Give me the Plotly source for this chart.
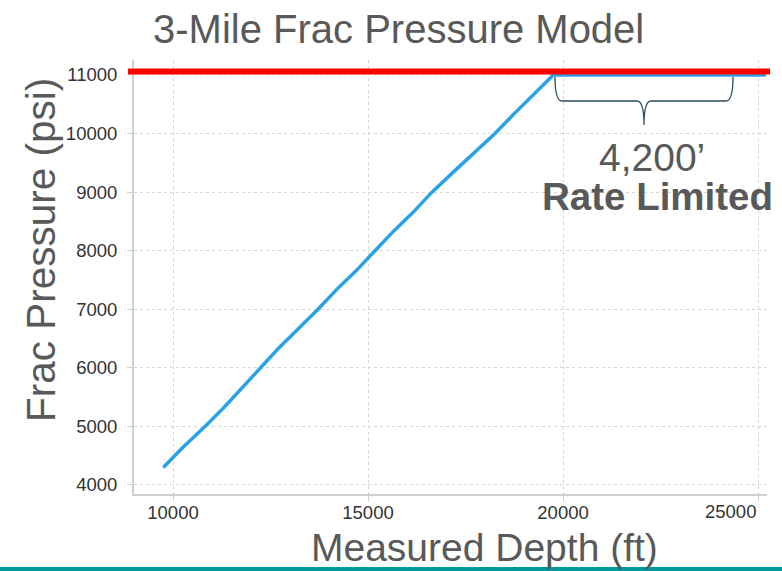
import plotly.graph_objects as go

# ---- data ----
depth_ft = [9750, 10250, 10820, 11300, 11800, 12230, 12700, 13200, 13718, 14200,
            14700, 15180, 15650, 16150, 16640, 17200, 17750, 18256, 18750, 19250,
            19750, 20500, 22000, 23500, 25200]
frac_psi = [4300, 4640, 5000, 5320, 5680, 6000, 6330, 6660, 7000, 7340,
            7660, 8000, 8330, 8650, 9000, 9350, 9680, 10000, 10340, 10660,
            11000, 11000, 11000, 11000, 11000]
rate_limit_psi = 11060
x_ticks = [10000, 15000, 20000, 25000]
x_tick_labels = ["10000", "15000", "20000", "25000"]
y_ticks = [4000, 5000, 6000, 7000, 8000, 9000, 10000, 11000]

# ---- layout geometry ----
W, H = 782, 571
L, R, T, B = 134, 15, 60, 77
X_RANGE = [9000, 25230]
Y_RANGE = [3846, 11256]
pw, ph = W - L - R, H - T - B

def xd(px):
    return X_RANGE[0] + (px - L) / pw * (X_RANGE[1] - X_RANGE[0])

def yd(py):
    return Y_RANGE[0] + (H - B - py) / ph * (Y_RANGE[1] - Y_RANGE[0])

def xp(px):
    return (px - L) / pw

def yp(py):
    return (H - B - py) / ph

FONT = "Liberation Sans, Arial, sans-serif"
TXT = "#595959"
TICK_FONT = dict(family=FONT, size=18.5, color="#333333")

fig = go.Figure()
fig.add_trace(go.Scatter(x=depth_ft, y=frac_psi, mode="lines",
                         line=dict(color="#2ba2e6", width=3.5), showlegend=False))

# bracket path
bx0, bx1, btip = 555, 733, 644
by0, by1, bt = 77, 101, 125
path = (f"M {xd(bx0)},{yd(by0)} "
        f"Q {xd(bx0)},{yd(by1)} {xd(bx0+7)},{yd(by1)} "
        f"L {xd(btip-7)},{yd(by1)} "
        f"Q {xd(btip)},{yd(by1)} {xd(btip)},{yd(bt)} "
        f"Q {xd(btip)},{yd(by1)} {xd(btip+7)},{yd(by1)} "
        f"L {xd(bx1-7)},{yd(by1)} "
        f"Q {xd(bx1)},{yd(by1)} {xd(bx1)},{yd(by0)}")

shapes = [
    dict(type="path", path=path, xref="x", yref="y",
         line=dict(color="#2a4d5e", width=1.3)),
    dict(type="line", xref="paper", yref="y", x0=xp(128), x1=xp(770),
         y0=rate_limit_psi, y1=rate_limit_psi, line=dict(color="#ff0000", width=6)),
    dict(type="rect", xref="paper", yref="paper", x0=xp(-5), x1=xp(790),
         y0=yp(567), y1=yp(575), fillcolor="#009a9a", line=dict(width=0)),
]

annotations = [
    dict(text="3-Mile Frac Pressure Model", x=xp(398), y=yp(29), xref="paper", yref="paper",
         showarrow=False, font=dict(family=FONT, size=40, color=TXT),
         xanchor="center", yanchor="middle"),
    dict(text="Measured Depth (ft)", x=xp(485), y=yp(547), xref="paper", yref="paper",
         showarrow=False, font=dict(family=FONT, size=39, color=TXT),
         xanchor="center", yanchor="middle"),
    dict(text="Frac Pressure (psi)", x=xp(41), y=yp(250), xref="paper", yref="paper",
         showarrow=False, textangle=-90, font=dict(family=FONT, size=40.5, color=TXT),
         xanchor="center", yanchor="middle"),
    dict(text="4,200’", x=xp(652), y=yp(157), xref="paper", yref="paper",
         showarrow=False, font=dict(family=FONT, size=39, color=TXT),
         xanchor="center", yanchor="middle"),
    dict(text="<b>Rate Limited</b>", x=xp(657), y=yp(196), xref="paper", yref="paper",
         showarrow=False, font=dict(family=FONT, size=38.5, color=TXT),
         xanchor="center", yanchor="middle"),
    # last x tick label sits right-aligned to its gridline in the reference
    dict(text=x_tick_labels[-1], x=x_ticks[-1], y=yp(512), xref="x", yref="paper",
         showarrow=False, font=TICK_FONT, xanchor="right", yanchor="middle"),
]

axis_common = dict(showline=True, linecolor="#d0d0d0", linewidth=2,
                   showgrid=True, gridcolor="#d6d6d6", griddash="dot", gridwidth=1,
                   ticks="outside", ticklen=5, tickcolor="#d0d0d0", tickwidth=1,
                   zeroline=False, tickformat="d", tickfont=TICK_FONT)

fig.update_layout(
    width=W, height=H,
    margin=dict(l=L, r=R, t=T, b=B, pad=0),
    paper_bgcolor="white", plot_bgcolor="white",
    xaxis=dict(range=X_RANGE, tickvals=x_ticks,
               ticktext=x_tick_labels[:-1] + [""], ticklabelstandoff=-4, **axis_common),
    yaxis=dict(range=Y_RANGE, tickvals=y_ticks, ticklabelstandoff=6, **axis_common),
    shapes=shapes, annotations=annotations, showlegend=False,
)

fig.write_html("out.html", config={"displayModeBar": False},
               post_script="document.body.style.margin='0';document.body.style.overflow='hidden';")
